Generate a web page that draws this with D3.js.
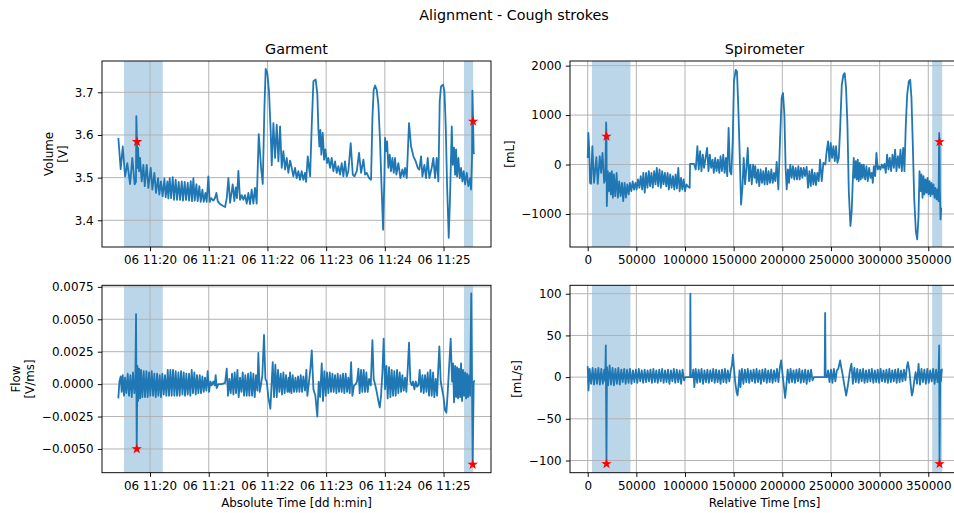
<!DOCTYPE html>
<html><head><meta charset="utf-8">
<script src="https://cdn.jsdelivr.net/npm/d3@7"></script>
<style>
body{margin:0;background:#fff;}
svg{display:block;font-family:"DejaVu Sans",sans-serif;}
</style></head><body>
<svg id="chart" width="954" height="513"></svg>
<script>
// ---------------- DATA ----------------
const figTitle = "Alignment - Cough strokes";
const panelTitles = ["Garment", "Spirometer"];
const garmentYLabels = [["Volume", "[V]"], ["Flow", "[V/ms]"]];
const spiroYLabels = [["[mL]"], ["[mL/s]"]];
const xLabels = ["Absolute Time [dd h:min]", "Relative Time [ms]"];
// garment clock start reference: 06 11:19:00 ; times below are seconds after it
const garmentClockStart = [2000, 0, 6, 11, 19, 0];
const garmentTickMinutes = ["11:20", "11:21", "11:22", "11:23", "11:24", "11:25"];
const spiroTicks = [0, 50000, 100000, 150000, 200000, 250000, 300000, 350000];
const volumeTicks = [3.4, 3.5, 3.6, 3.7];
const spiroVolumeTicks = [-1000, 0, 1000, 2000];
const flowTicks = [-0.005, -0.0025, 0, 0.0025, 0.005, 0.0075];
const spiroFlowTicks = [-100, -50, 0, 50, 100];

// shaded cough windows
const garmentSpans = [[33.4, 73.0], [380.9, 390.2]];     // seconds
const spiroSpans = [[4400, 43900], [354000, 364200]];    // ms

// garment volume [s, V]
const garmentVolume = [[27.6,3.593],[30.0,3.520],[32.1,3.573],[34.5,3.503],[36.8,3.534],[39.6,3.485],[41.9,3.546],[44.3,3.484],[45.6,3.490],[46.0,3.644],[46.7,3.584],[47.1,3.523],[47.7,3.570],[48.8,3.515],[49.8,3.546],[51.5,3.491],[53.2,3.530],[54.6,3.480],[56.6,3.530],[58.3,3.476],[60.7,3.523],[62.4,3.472],[64.4,3.511],[66.1,3.464],[68.2,3.499],[69.5,3.460],[71.2,3.491],[72.9,3.456],[74.7,3.498],[76.0,3.454],[77.7,3.491],[78.7,3.451],[80.1,3.499],[81.5,3.452],[83.2,3.501],[84.5,3.448],[86.2,3.495],[87.6,3.448],[89.3,3.490],[90.7,3.448],[92.4,3.491],[93.7,3.446],[95.4,3.490],[96.8,3.448],[98.5,3.488],[99.9,3.446],[101.6,3.492],[102.9,3.445],[104.3,3.499],[105.7,3.446],[107.4,3.485],[108.7,3.445],[110.4,3.480],[111.8,3.443],[113.5,3.472],[114.9,3.443],[116.6,3.464],[117.9,3.443],[119.6,3.503],[121.0,3.443],[122.4,3.452],[124.7,3.446],[126.4,3.452],[127.8,3.464],[129.2,3.445],[131.6,3.438],[134.3,3.434],[136.7,3.431],[138.4,3.452],[140.1,3.499],[141.8,3.441],[144.5,3.484],[146.2,3.445],[147.6,3.477],[148.9,3.452],[150.3,3.516],[152.0,3.448],[153.7,3.459],[155.4,3.448],[157.1,3.459],[158.8,3.439],[160.5,3.464],[162.2,3.438],[163.9,3.472],[165.6,3.439],[167.3,3.476],[169.0,3.439],[171.1,3.602],[173.5,3.523],[175.2,3.485],[176.9,3.663],[178.2,3.755],[179.9,3.745],[181.6,3.702],[183.3,3.609],[184.4,3.529],[186.1,3.628],[187.8,3.546],[189.5,3.624],[191.2,3.538],[192.9,3.620],[194.6,3.523],[196.3,3.562],[198.0,3.519],[199.7,3.546],[201.4,3.511],[203.1,3.540],[204.8,3.523],[206.5,3.503],[208.2,3.523],[209.9,3.499],[211.6,3.515],[213.3,3.495],[215.0,3.515],[216.7,3.495],[218.4,3.511],[219.5,3.490],[221.2,3.550],[223.6,3.503],[225.3,3.624],[227.0,3.726],[229.3,3.730],[231.0,3.695],[232.1,3.612],[233.1,3.573],[234.1,3.612],[235.1,3.554],[236.5,3.605],[237.9,3.542],[239.2,3.566],[240.9,3.534],[242.3,3.546],[244.0,3.523],[245.7,3.546],[247.4,3.515],[249.1,3.538],[250.8,3.511],[252.5,3.527],[254.2,3.507],[255.9,3.534],[257.6,3.503],[259.3,3.538],[261.0,3.503],[262.7,3.515],[265.1,3.581],[267.2,3.507],[268.9,3.503],[271.3,3.515],[273.6,3.558],[275.7,3.511],[278.1,3.542],[279.8,3.507],[281.5,3.511],[283.9,3.499],[285.9,3.495],[287.3,3.640],[288.6,3.706],[290.0,3.716],[291.7,3.706],[293.4,3.671],[295.1,3.585],[296.8,3.468],[298.2,3.378],[299.5,3.499],[300.2,3.593],[301.2,3.562],[302.3,3.585],[303.6,3.523],[305.0,3.554],[306.3,3.515],[307.7,3.546],[309.1,3.511],[310.4,3.546],[311.8,3.507],[313.8,3.534],[315.9,3.499],[317.9,3.519],[319.3,3.503],[320.7,3.523],[322.4,3.499],[324.7,3.628],[326.8,3.573],[329.2,3.550],[331.6,3.538],[333.6,3.523],[335.3,3.519],[337.0,3.550],[338.4,3.503],[340.4,3.530],[342.1,3.499],[343.8,3.546],[345.5,3.499],[347.9,3.523],[349.6,3.546],[351.3,3.499],[353.0,3.546],[354.7,3.491],[356.1,3.679],[357.4,3.714],[359.5,3.718],[360.9,3.702],[362.2,3.624],[363.6,3.484],[365.3,3.359],[366.6,3.452],[368.4,3.620],[369.4,3.530],[370.7,3.570],[371.8,3.507],[372.8,3.566],[373.8,3.503],[375.2,3.546],[376.5,3.499],[377.9,3.523],[379.3,3.491],[380.6,3.515],[382.0,3.484],[383.7,3.511],[385.4,3.480],[387.1,3.499],[388.1,3.472],[389.1,3.546],[389.5,3.704],[390.2,3.632],[390.8,3.558],[391.5,3.555]];
const garmentVolumeStars = [[46.7,3.584],[390.2,3.632]];

// garment flow [s, V/ms]
const garmentFlow = [[27.6,-0.0011],[28.7,0.0002],[30.0,0.0006],[31.0,-0.0006],[32.1,0.0007],[33.4,-0.0009],[34.5,0.0005],[35.8,-0.0007],[37.2,0.0008],[38.5,-0.0009],[39.9,0.0007],[41.3,-0.0010],[42.6,0.0009],[44.0,-0.0007],[45.0,0.0004],[45.7,0.0054],[46.4,-0.0050],[47.1,0.0014],[47.7,-0.0013],[48.8,0.0012],[49.8,-0.0011],[50.8,0.0011],[52.2,-0.0010],[53.5,0.0010],[54.9,-0.0010],[56.3,0.0010],[57.6,-0.0010],[59.0,0.0009],[60.3,-0.0009],[61.7,0.0010],[63.1,-0.0009],[64.4,0.0008],[65.8,-0.0010],[67.2,0.0008],[68.5,-0.0009],[69.9,0.0007],[71.2,-0.0010],[72.6,0.0008],[74.0,-0.0008],[75.3,0.0007],[76.7,-0.0009],[78.1,0.0011],[79.4,-0.0009],[80.8,0.0011],[82.1,-0.0009],[83.5,0.0011],[84.9,-0.0009],[86.2,0.0010],[87.6,-0.0009],[89.0,0.0009],[90.3,-0.0009],[91.7,0.0010],[93.1,-0.0008],[94.4,0.0009],[95.8,-0.0009],[97.1,0.0008],[98.5,-0.0008],[99.9,0.0008],[101.2,-0.0009],[102.6,0.0011],[103.9,-0.0007],[105.3,0.0009],[106.7,-0.0008],[108.0,0.0007],[109.4,-0.0007],[110.8,0.0007],[112.1,-0.0007],[113.5,0.0006],[114.9,-0.0006],[116.2,0.0005],[117.6,-0.0005],[118.9,0.0010],[120.3,-0.0006],[121.7,0.0002],[123.0,-0.0001],[124.7,0.0002],[126.1,-0.0001],[127.1,0.0007],[128.1,-0.0003],[129.8,0.0000],[133.3,0.0000],[136.7,0.0001],[138.4,0.0012],[139.7,-0.0009],[141.1,0.0004],[142.5,-0.0007],[143.8,0.0008],[145.2,-0.0008],[146.5,0.0009],[147.9,-0.0007],[149.3,0.0011],[150.6,-0.0010],[152.0,0.0005],[153.4,-0.0006],[154.7,0.0009],[156.1,-0.0009],[157.4,0.0007],[158.8,-0.0009],[160.2,0.0008],[161.5,-0.0009],[162.9,0.0009],[164.3,-0.0009],[165.6,0.0008],[167.0,-0.0010],[168.3,0.0007],[169.7,-0.0005],[170.7,0.0024],[172.1,-0.0006],[173.5,0.0000],[174.8,0.0007],[176.5,0.0038],[177.9,0.0004],[179.3,0.0002],[180.9,-0.0010],[183.0,-0.0019],[184.4,0.0002],[185.4,0.0017],[186.7,-0.0010],[188.1,0.0015],[189.5,-0.0010],[190.8,0.0011],[192.2,-0.0006],[193.6,0.0008],[194.9,-0.0008],[196.3,0.0009],[197.6,-0.0007],[199.0,0.0007],[200.4,-0.0006],[201.7,0.0005],[202.4,-0.0006],[203.1,0.0009],[204.5,-0.0007],[205.8,0.0007],[207.2,-0.0006],[208.6,0.0005],[209.9,-0.0006],[211.3,0.0006],[212.7,-0.0006],[214.0,0.0007],[215.4,-0.0006],[216.7,0.0006],[218.4,-0.0005],[219.8,0.0011],[220.8,-0.0009],[222.5,0.0002],[223.9,0.0012],[225.3,0.0026],[227.0,-0.0004],[229.0,-0.0009],[231.0,-0.0025],[232.4,0.0002],[233.8,-0.0010],[235.5,0.0016],[236.8,-0.0013],[238.2,0.0010],[239.6,-0.0009],[240.9,0.0009],[242.3,-0.0007],[243.7,0.0009],[245.0,-0.0006],[246.4,0.0008],[247.7,-0.0006],[249.1,0.0007],[250.5,-0.0007],[251.8,0.0008],[253.2,-0.0006],[254.6,0.0007],[255.9,-0.0006],[257.3,0.0008],[258.6,-0.0007],[260.0,0.0008],[261.4,-0.0006],[262.7,0.0005],[264.1,-0.0007],[265.5,0.0017],[266.8,-0.0009],[268.5,-0.0001],[270.2,0.0000],[271.6,0.0002],[273.0,0.0012],[274.3,-0.0007],[275.7,0.0011],[277.0,-0.0006],[278.4,0.0011],[279.8,-0.0006],[281.1,0.0009],[282.5,-0.0006],[283.9,0.0004],[285.6,-0.0001],[287.3,0.0034],[288.6,0.0004],[290.0,0.0000],[291.7,-0.0006],[293.4,-0.0013],[294.8,-0.0018],[296.1,-0.0009],[297.5,0.0009],[298.8,0.0035],[300.2,-0.0004],[301.6,0.0014],[302.9,-0.0011],[304.3,0.0013],[305.7,-0.0010],[307.0,0.0011],[308.4,-0.0009],[309.7,0.0010],[311.1,-0.0009],[312.5,0.0011],[313.8,-0.0007],[315.2,0.0009],[316.6,-0.0006],[317.9,0.0007],[319.3,-0.0005],[320.7,0.0005],[322.0,-0.0006],[323.4,0.0012],[324.7,0.0032],[326.1,0.0002],[327.5,-0.0001],[328.8,0.0002],[330.2,-0.0004],[331.6,0.0002],[332.9,-0.0002],[334.3,-0.0001],[335.6,0.0011],[337.0,-0.0006],[338.4,0.0007],[339.7,-0.0007],[341.1,0.0007],[342.5,-0.0006],[343.8,0.0009],[345.2,-0.0009],[346.5,0.0011],[347.9,-0.0009],[349.3,0.0009],[350.6,-0.0010],[352.0,0.0004],[353.4,-0.0009],[354.7,0.0014],[355.7,0.0029],[357.1,0.0002],[358.5,-0.0004],[359.8,-0.0009],[361.5,-0.0020],[362.9,-0.0022],[364.3,-0.0006],[365.6,0.0012],[367.3,0.0035],[368.7,0.0002],[369.7,0.0016],[370.7,-0.0014],[371.8,0.0014],[372.8,-0.0010],[373.8,0.0013],[374.8,-0.0011],[375.8,0.0012],[376.9,-0.0010],[377.9,0.0016],[378.9,-0.0013],[379.9,0.0011],[381.0,-0.0009],[382.0,0.0009],[383.0,-0.0011],[384.0,0.0008],[385.0,-0.0010],[386.1,0.0007],[387.1,-0.0009],[388.3,0.0070],[389.8,-0.0062],[390.8,0.0001],[391.5,0.0003]];
const garmentFlowStars = [[46.4,-0.0050],[389.8,-0.0062]];

// spirometer volume [ms, mL]
const spiroVolume = [[0,134],[700,639],[1700,235],[2400,-370],[3400,-390],[4800,370],[6500,-370],[8900,148],[10300,-390],[12400,168],[13800,-170],[15200,235],[16900,-370],[18000,-300],[18960,850],[19300,570],[19650,-840],[20700,-135],[21700,-540],[22800,-170],[23800,-605],[24800,-135],[25900,-670],[26900,-200],[28300,-640],[29700,-170],[31000,-670],[32400,-340],[33800,-640],[35200,-370],[36500,-740],[37900,-370],[39300,-670],[40700,-400],[42100,-605],[43400,-370],[44800,-540],[46200,-340],[47600,-505],[49000,-370],[50300,-505],[51700,-300],[53100,-470],[54500,-235],[55900,-505],[57200,-170],[58600,-570],[60000,-170],[61400,-470],[62800,-135],[64100,-440],[65500,-170],[66900,-470],[68300,-135],[69700,-400],[71000,-67],[72400,-440],[73800,-100],[75200,-470],[76500,-135],[77900,-400],[79300,-170],[80700,-440],[82100,-170],[83400,-505],[84800,-200],[86200,-470],[87600,-235],[89000,-505],[90300,-200],[91700,-485],[93100,-67],[94500,-540],[95900,-270],[97200,-505],[98600,-300],[100000,-540],[101400,-400],[102800,-440],[104800,-470],[105200,13],[109300,13],[111000,-100],[112700,370],[114100,-100],[115500,270],[116900,-135],[118300,200],[119600,-67],[121400,168],[122700,336],[124100,-135],[125500,200],[126900,-67],[128300,100],[129600,-168],[131000,134],[132400,-135],[133800,100],[135200,-168],[136500,168],[137900,-135],[139300,200],[140700,-168],[142100,134],[143400,-235],[144800,740],[146200,-135],[147600,-200],[149000,470],[150300,1680],[152100,1915],[153400,1880],[154800,1140],[156200,200],[157600,-810],[159000,-470],[160300,134],[161700,-400],[163100,-67],[164500,336],[165800,-336],[167200,0],[168600,-400],[170000,0],[171400,-270],[172200,-34],[173600,-370],[175000,-100],[176300,-437],[177700,-100],[179100,-370],[180400,-135],[181800,-404],[183200,-67],[184600,-404],[185900,-135],[187300,-370],[188700,-100],[190100,-370],[191400,-168],[192800,-336],[194200,54],[195900,-504],[197600,470],[199300,1345],[200700,1446],[202100,1009],[203400,-67],[204500,-504],[205800,-100],[206900,-370],[208200,0],[209600,-270],[211000,-34],[212300,-303],[213700,-67],[215100,-303],[216500,-34],[217800,-303],[219200,-67],[220600,-270],[222000,-67],[223300,-235],[225000,-47],[226400,-470],[227800,-135],[229200,-437],[230500,-100],[231900,-404],[233300,-168],[234600,-417],[236000,-168],[237400,-336],[238800,100],[240500,-336],[242200,34],[244200,0],[245600,270],[247000,470],[248400,67],[249700,437],[251100,134],[252500,370],[253900,67],[255200,370],[256600,34],[258000,134],[259300,672],[261100,1614],[262800,1816],[264100,1849],[265500,1547],[266900,807],[268300,-538],[270000,-1244],[271300,-941],[272400,-336],[273400,134],[274400,-270],[275500,67],[276500,-303],[277500,100],[278500,-336],[279600,34],[280600,-303],[281600,0],[282700,-270],[283700,0],[285100,-303],[286400,-34],[287800,-336],[289200,-67],[290600,-270],[291900,-168],[293000,-370],[294000,-34],[295400,-235],[296700,235],[298100,-100],[299500,-34],[300800,-100],[302200,0],[303600,-67],[305000,13],[306300,-168],[307700,202],[309100,-100],[310400,134],[311800,-135],[313200,202],[314600,-67],[315900,303],[317300,-135],[318700,168],[320100,-67],[321400,303],[322800,-135],[324200,336],[325500,-135],[326900,807],[328300,1412],[330000,1681],[331400,1715],[332700,1345],[334100,403],[335500,-672],[337200,-1345],[338600,-1513],[339900,-1076],[341000,-135],[342000,-538],[343000,-202],[344100,-672],[345100,-235],[346100,-605],[347100,-303],[348200,-571],[349200,-270],[350200,-605],[351300,-336],[352300,-639],[353300,-370],[354400,-605],[355400,-404],[356400,-672],[357400,-471],[358500,-706],[359500,-504],[360500,-740],[361200,639],[361550,457],[361900,-538],[362600,-1110],[363300,-874]];
const spiroVolumeStars = [[19300,570],[361550,457]];

// spirometer flow [ms, mL/s]
const spiroFlow = [[0,13],[800,-16],[2000,10],[3500,-8],[5000,11],[6500,-9],[8000,10],[9500,-8],[11000,11],[12500,-9],[14000,10],[15500,-8],[17000,9],[18000,-5],[18600,38],[19300,-104],[19800,12],[21000,-10],[22500,14],[24000,-9],[25500,11],[27000,-10],[28500,10],[30000,-8],[31500,11],[33000,-9],[34500,9],[36000,-6],[37500,10],[39000,-8],[40500,9],[42000,-7],[43500,10],[45000,-8],[46500,8],[48000,-6],[49500,9],[51000,-7],[52500,10],[54000,-5],[55500,8],[57000,-7],[58500,9],[60000,-6],[61500,8],[63000,-5],[64500,9],[66000,-7],[67500,10],[69000,-6],[70500,8],[72000,-7],[73500,9],[75000,-5],[76500,10],[78000,-7],[79500,8],[81000,-6],[82500,9],[84000,-8],[85500,8],[87000,-5],[88500,10],[90000,-7],[91500,9],[93000,-6],[94500,8],[96000,-8],[97500,9],[99000,-4],[100300,0],[105200,0],[105500,100],[105900,0],[107500,0],[108500,9],[109600,-12],[111000,10],[112500,-7],[114000,9],[115500,-6],[117000,10],[118500,-8],[120000,8],[121500,-6],[123000,9],[124500,-7],[126000,8],[127500,-5],[129000,10],[130500,-7],[132000,9],[133500,-6],[135000,8],[136500,-8],[138000,9],[139500,-6],[141000,10],[142500,-7],[144000,8],[145500,-5],[147000,8],[148300,15],[149200,27],[150200,12],[151500,-5],[153000,-18],[154000,-22],[155000,-10],[156000,8],[157000,-12],[158500,10],[160000,-8],[161500,9],[163000,-6],[164500,10],[166000,-7],[167500,8],[169000,-5],[170500,9],[172000,-7],[173500,10],[175000,-6],[176500,8],[178000,-8],[179500,9],[181000,-5],[182500,10],[184000,-7],[185500,8],[187000,-6],[188500,9],[190000,-7],[191500,8],[193000,-5],[194500,10],[196000,-6],[197500,12],[198800,20],[200000,6],[201500,-10],[202900,-25],[204000,-12],[205500,9],[207000,-7],[208500,10],[210000,-6],[211500,8],[213000,-7],[214500,9],[216000,-5],[217500,10],[219000,-7],[220500,8],[222000,-6],[223500,9],[225000,-8],[226500,8],[228000,-5],[229500,9],[231000,-4],[232500,0],[243500,0],[244000,77],[244500,0],[246000,0],[247000,8],[248500,-6],[250000,9],[251500,-7],[253000,10],[254500,-5],[256000,8],[257500,10],[259400,20],[260500,12],[262000,3],[263500,-8],[265600,-22],[266800,-14],[268000,-5],[269500,8],[271000,16],[272500,-8],[274000,11],[275500,-6],[277000,10],[278500,-7],[280000,9],[281500,-5],[283000,10],[284500,-7],[286000,8],[287500,-6],[289000,9],[290500,-5],[292000,10],[293500,-7],[295000,8],[296500,-6],[298000,9],[299500,-7],[301000,10],[302500,-5],[304000,8],[305500,-6],[307000,9],[308500,-7],[310000,10],[311500,-6],[313000,8],[314500,-5],[316000,9],[317500,-7],[319000,10],[320500,-6],[322000,8],[323500,-5],[325000,9],[326500,-4],[328000,12],[329000,18],[330500,8],[332000,-10],[333100,-22],[334200,-17],[335500,-5],[337000,6],[338500,-8],[340000,16],[341500,-9],[343000,10],[344500,-6],[346000,9],[347500,-8],[349000,10],[350500,-7],[352000,8],[353500,-5],[355000,10],[356500,-8],[358000,9],[359500,-6],[360600,8],[361200,38],[361550,-104],[362300,8],[363000,-5],[364000,10]];
const spiroFlowStars = [[19300,-104],[361550,-104]];

// ---------------- DRAWING ----------------
const svg = d3.select("#chart");
const FONT = '"DejaVu Sans", sans-serif';
const FS = 11.9, TFS = 14.3;
const C0 = "#1f77b4";
svg.append("rect").attr("width", 954).attr("height", 513).attr("fill", "#fff");

const t0 = new Date(...garmentClockStart).getTime();
const toDate = s => new Date(t0 + s * 1000);
const dayPart = d3.timeFormat("%d")(new Date(...garmentClockStart));
const garmentTickDates = garmentTickMinutes.map(m => {
  const [h, mi] = m.split(":").map(Number);
  const a = garmentClockStart.slice(); a[3] = h; a[4] = mi; a[5] = 0;
  return new Date(...a);
});

function starPath(cx, cy, R) {
  const r = R * 0.381966, p = d3.path();
  for (let i = 0; i < 10; i++) {
    const a = -Math.PI / 2 + i * Math.PI / 5, rr = i % 2 ? r : R;
    const px = cx + rr * Math.cos(a), py = cy + rr * Math.sin(a);
    if (i) p.lineTo(px, py); else p.moveTo(px, py);
  }
  p.closePath();
  return p.toString();
}

function drawPanel(p) {
  const { id, left, top, width, height, x, y, xv } = p;
  x.range([left, left + width]);
  y.range([top + height, top]);
  const g = svg.append("g");
  g.append("clipPath").attr("id", "clip" + id).append("rect")
    .attr("x", left).attr("y", top).attr("width", width).attr("height", height);

  g.append("g").selectAll("rect").data(p.spans).join("rect")
    .attr("x", d => x(xv(d[0]))).attr("y", top)
    .attr("width", d => x(xv(d[1])) - x(xv(d[0]))).attr("height", height)
    .attr("fill", C0).attr("fill-opacity", 0.3);

  const grid = g.append("g").attr("stroke", "#b0b0b0").attr("stroke-width", 0.95);
  grid.selectAll("line.gx").data(p.xTicks).join("line").attr("class", "gx")
    .attr("x1", d => x(d)).attr("x2", d => x(d)).attr("y1", top).attr("y2", top + height);
  grid.selectAll("line.gy").data(p.yTicks).join("line").attr("class", "gy")
    .attr("y1", d => y(d)).attr("y2", d => y(d)).attr("x1", left).attr("x2", left + width);

  g.append("path").datum(p.data).attr("clip-path", `url(#clip${id})`)
    .attr("fill", "none").attr("stroke", C0).attr("stroke-width", 1.8)
    .attr("stroke-linejoin", "round")
    .attr("d", d3.line().x(d => x(xv(d[0]))).y(d => y(d[1])));

  g.append("g").selectAll("path").data(p.stars).join("path")
    .attr("d", d => starPath(x(xv(d[0])), y(d[1]), 3.7))
    .attr("fill", "red").attr("stroke", "red").attr("stroke-width", 1.1)
    .attr("stroke-linejoin", "miter");

  g.append("rect").attr("x", left).attr("y", top).attr("width", width).attr("height", height)
    .attr("fill", "none").attr("stroke", "#000").attr("stroke-width", 0.95);

  const ax = g.append("g").attr("transform", `translate(0,${top + height})`)
    .call(d3.axisBottom(x).tickValues(p.xTicks).tickFormat(p.xFmt).tickSize(4.2).tickPadding(4.2));
  const ay = g.append("g").attr("transform", `translate(${left},0)`)
    .call(d3.axisLeft(y).tickValues(p.yTicks).tickFormat(p.yFmt).tickSize(4.2).tickPadding(4.2));
  [ax, ay].forEach(a => {
    a.select(".domain").remove();
    a.attr("font-size", FS).attr("font-family", FONT);
    a.selectAll("line").attr("stroke", "#000").attr("stroke-width", 0.95);
    a.selectAll("text").attr("fill", "#000");
  });
  ax.selectAll("text").attr("dy", "0.76em");

  // title
  if (p.title) svg.append("text").attr("x", left + width / 2).attr("y", top - 7.2)
    .attr("text-anchor", "middle").attr("font-size", TFS).attr("font-family", FONT).text(p.title);
  // x label
  if (p.xlabel) svg.append("text").attr("x", left + width / 2).attr("y", top + height + 34.1)
    .attr("text-anchor", "middle").attr("font-size", FS).attr("font-family", FONT).text(p.xlabel);
  // y label (multi-line, rotated)
  let maxW = 0;
  ay.selectAll("text").each(function () { maxW = Math.max(maxW, this.getBBox().width); });
  const rightEdge = left - 8.4 - maxW - 4.8;
  const n = p.ylabel.length;
  p.ylabel.forEach((line, i) => {
    const bx = rightEdge - 2.8 - (n - 1 - i) * 14.3;
    svg.append("text").attr("transform", `translate(${bx},${top + height / 2}) rotate(-90)`)
      .attr("text-anchor", "middle").attr("font-size", FS).attr("font-family", FONT).text(line);
  });
}

const garmentXDomain = [toDate(10.9), toDate(408.5)];
const spiroXDomain = [-18190, 381560];
const timeFmt = d => dayPart + " " + d3.timeFormat("%H:%M")(d);

drawPanel({ id: "gv", left: 102, top: 61, width: 389, height: 186,
  x: d3.scaleTime().domain(garmentXDomain), y: d3.scaleLinear().domain([3.3374, 3.7734]),
  xv: toDate, xTicks: garmentTickDates, xFmt: timeFmt, yTicks: volumeTicks, yFmt: d3.format(".1f"),
  data: garmentVolume, stars: garmentVolumeStars, spans: garmentSpans,
  title: panelTitles[0], ylabel: garmentYLabels[0] });

drawPanel({ id: "sv", left: 570, top: 61, width: 389, height: 186,
  x: d3.scaleLinear().domain(spiroXDomain), y: d3.scaleLinear().domain([-1668, 2094]),
  xv: d => d, xTicks: spiroTicks, xFmt: d3.format("d"), yTicks: spiroVolumeTicks, yFmt: d3.format("d"),
  data: spiroVolume, stars: spiroVolumeStars, spans: spiroSpans,
  title: panelTitles[1], ylabel: spiroYLabels[0] });

drawPanel({ id: "gf", left: 102, top: 285.3, width: 389, height: 187.4,
  x: d3.scaleTime().domain(garmentXDomain), y: d3.scaleLinear().domain([-0.00683, 0.00762]),
  xv: toDate, xTicks: garmentTickDates, xFmt: timeFmt, yTicks: flowTicks, yFmt: d3.format(".4f"),
  data: garmentFlow, stars: garmentFlowStars, spans: garmentSpans,
  xlabel: xLabels[0], ylabel: garmentYLabels[1] });

drawPanel({ id: "sf", left: 570, top: 285.3, width: 389, height: 187.4,
  x: d3.scaleLinear().domain(spiroXDomain), y: d3.scaleLinear().domain([-114.6, 110.1]),
  xv: d => d, xTicks: spiroTicks, xFmt: d3.format("d"), yTicks: spiroFlowTicks, yFmt: d3.format("d"),
  data: spiroFlow, stars: spiroFlowStars, spans: spiroSpans,
  xlabel: xLabels[1], ylabel: spiroYLabels[1] });

svg.append("text").attr("x", 514).attr("y", 19.5).attr("text-anchor", "middle")
  .attr("font-size", TFS).attr("font-family", FONT).text(figTitle);
</script>
</body></html>
